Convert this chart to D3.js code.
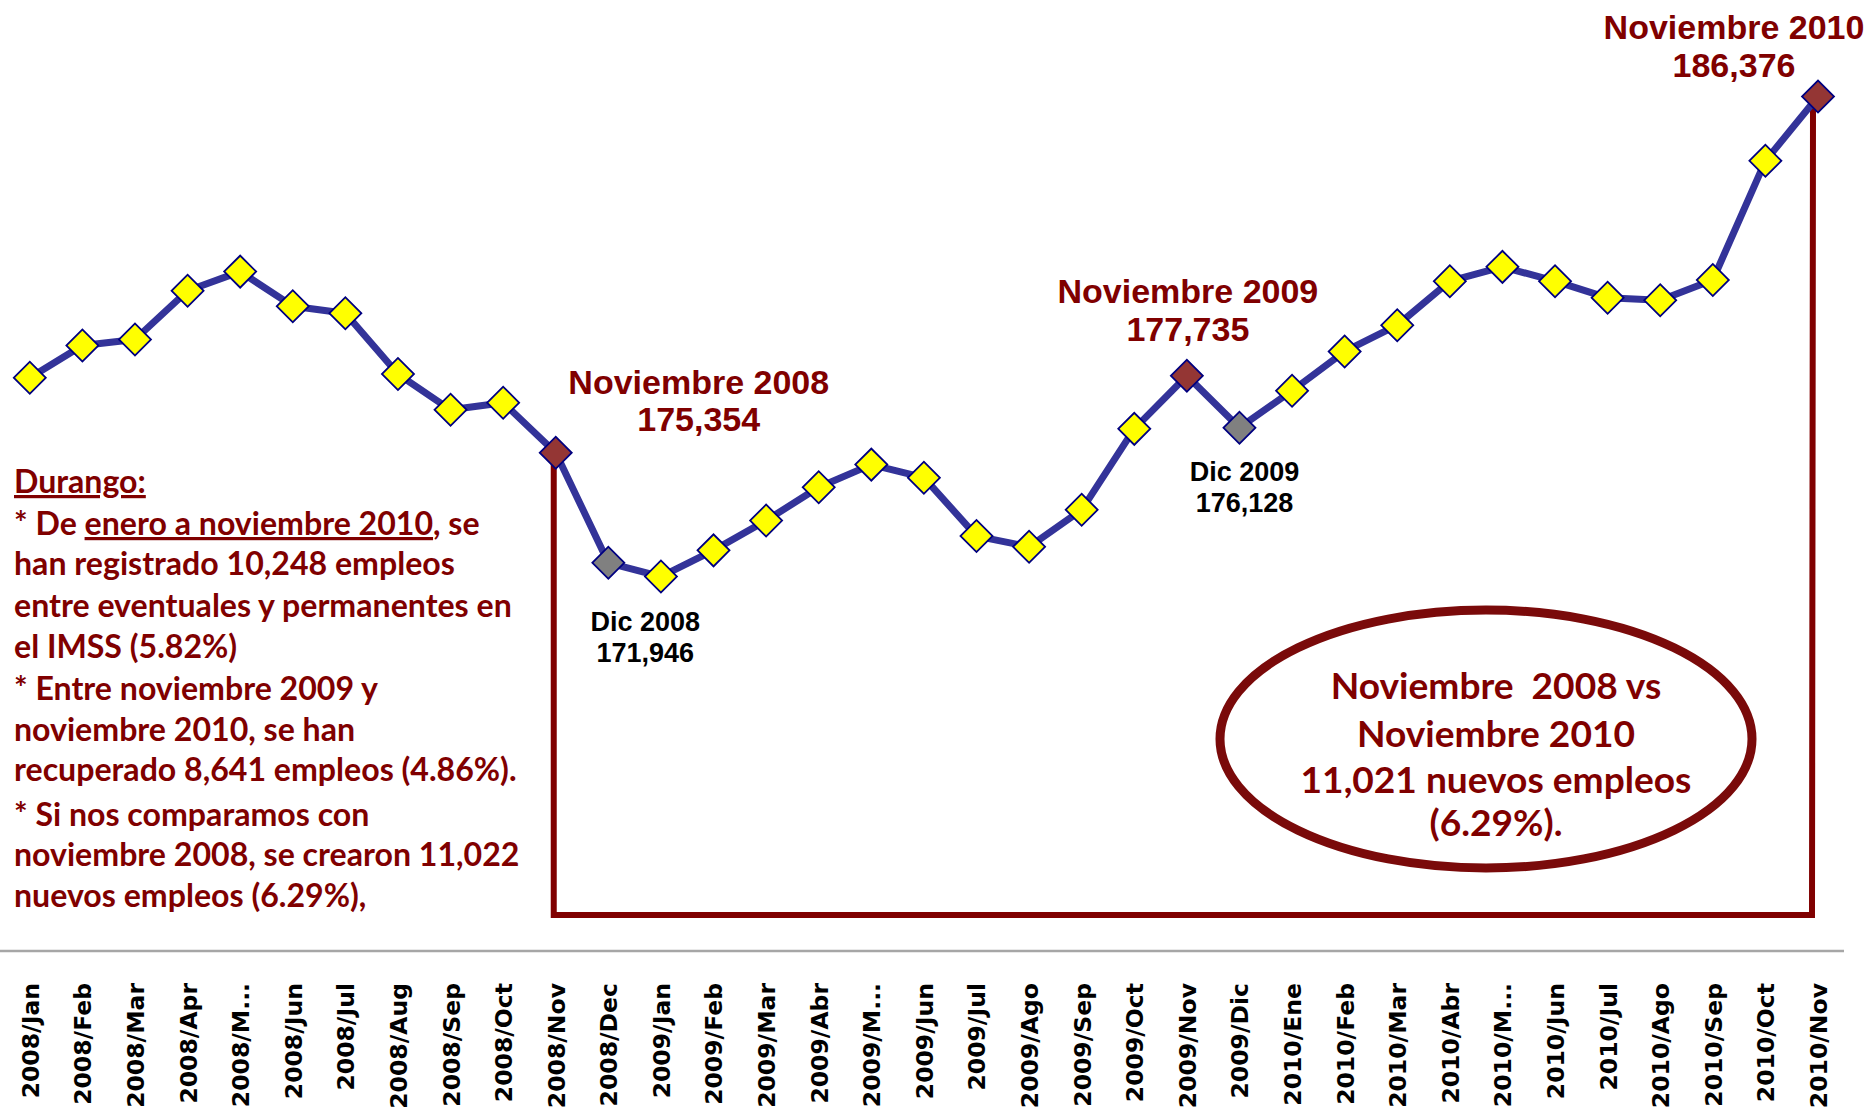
<!DOCTYPE html>
<html><head><meta charset="utf-8">
<script src="https://cdn.jsdelivr.net/npm/d3@7"></script>
<style>
html,body{margin:0;padding:0;background:#fff;}
svg{display:block;}
</style></head>
<body>
<svg id="chart" width="1868" height="1108"></svg>
<script>
const months = ["2008/Jan","2008/Feb","2008/Mar","2008/Apr","2008/M...","2008/Jun","2008/Jul","2008/Aug","2008/Sep","2008/Oct","2008/Nov","2008/Dec",
"2009/Jan","2009/Feb","2009/Mar","2009/Abr","2009/M...","2009/Jun","2009/Jul","2009/Ago","2009/Sep","2009/Oct","2009/Nov","2009/Dic",
"2010/Ene","2010/Feb","2010/Mar","2010/Abr","2010/M...","2010/Jun","2010/Jul","2010/Ago","2010/Sep","2010/Oct","2010/Nov"];
const values = [177676,178671,178856,180367,180957,179888,179667,177787,176681,176902,175354,171946,
171521,172331,173253,174285,174985,174580,172774,172442,173585,176091,177735,176128,
177271,178487,179298,180662,181104,180662,180146,180072,180699,184385,186376];
const highlightNov = [10,22,34];
const highlightDec = [11,23];
const annotations = [
  {i:10, lines:["Noviembre 2008","175,354"], dx:143, dy:[-59,-22], color:"#800000", size:34},
  {i:22, lines:["Noviembre 2009","177,735"], dx:1, dy:[-73,-35], color:"#800000", size:34},
  {i:34, lines:["Noviembre 2010","186,376"], dx:-84, dy:[-58,-20], color:"#800000", size:34},
  {i:11, lines:["Dic 2008","171,946"], dx:37, dy:[68,99], color:"#000000", size:27},
  {i:23, lines:["Dic 2009","176,128"], dx:5, dy:[53,84], color:"#000000", size:27}
];
const noteLines = [
  [{t:"Durango:",u:true}],
  [{t:"* De "},{t:"enero a noviembre 2010",u:true},{t:", se"}],
  [{t:"han registrado 10,248 empleos"}],
  [{t:"entre eventuales y permanentes en"}],
  [{t:"el IMSS (5.82%)"}],
  [{t:"* Entre noviembre 2009 y"}],
  [{t:"noviembre 2010, se han"}],
  [{t:"recuperado 8,641 empleos (4.86%)."}],
  [{t:"* Si nos comparamos con"}],
  [{t:"noviembre 2008, se crearon 11,022"}],
  [{t:"nuevos empleos (6.29%),"}]
];
const noteBaselines = [493,535,575,617,658,700,741,781,826,866,907];
const ellipseLines = ["Noviembre  2008 vs","Noviembre 2010","11,021 nuevos empleos","(6.29%)."];
const ellipseBaselines = [699,747,793,836];

const svg = d3.select("#chart");
const x = d3.scalePoint().domain(months).range([29.8, 1818]);
const y = d3.scaleLinear().domain([170000, 190000]).range([625.7, -20.6]);
const dark = "#800000";

// axis baseline
svg.append("line").attr("x1",0).attr("x2",1844).attr("y1",951).attr("y2",951)
  .attr("stroke","#a6a6a6").attr("stroke-width",2.5);

// axis labels
const xAxis = d3.axisBottom(x).tickSize(0).tickPadding(0);
const gx = svg.append("g").attr("transform","translate(0,951)").call(xAxis);
gx.select(".domain").remove();
gx.selectAll("text")
  .attr("font-family","'DejaVu Sans', Verdana, sans-serif")
  .attr("font-weight","bold").attr("font-size",23.5).attr("fill","#000")
  .attr("text-anchor","end")
  .attr("transform","rotate(-90)")
  .attr("x",-32).attr("y",0).attr("dy","0.36em");

// bracket
const xs = x(months[10]) - 2, xe = x(months[34]) - 6;
svg.append("path")
  .attr("d", `M${xs},${y(values[10])+6} L${xs},915 L${xe},915 L${xe+1},${y(values[34])+8}`)
  .attr("fill","none").attr("stroke",dark).attr("stroke-width",6).attr("stroke-linejoin","miter");

// line
const line = d3.line().x((d,i)=>x(months[i])).y(d=>y(d));
svg.append("path").datum(values).attr("d",line)
  .attr("fill","none").attr("stroke","#333399").attr("stroke-width",7).attr("stroke-linejoin","round");

// markers
svg.selectAll("path.mk").data(values).enter().append("path").attr("class","mk")
  .attr("d", d3.symbol().type(d3.symbolSquare).size(Math.pow(16*Math.SQRT2,2))())
  .attr("transform",(d,i)=>`translate(${x(months[i])},${y(d)}) rotate(45)`)
  .attr("fill",(d,i)=> highlightNov.includes(i) ? "#943634" : highlightDec.includes(i) ? "#808080" : "#ffff00")
  .attr("stroke","#000080").attr("stroke-width",1.8);

// annotations
annotations.forEach(a=>{
  const cx = x(months[a.i]) + a.dx, cy = y(values[a.i]);
  a.lines.forEach((t,k)=>{
    svg.append("text").attr("x",cx).attr("y",cy + a.dy[k]).text(t)
      .attr("text-anchor","middle").attr("font-family","'Liberation Sans', Arial, sans-serif")
      .attr("font-weight","bold").attr("font-size",a.size).attr("fill",a.color);
  });
});

// left note
const noteG = svg.append("g");
noteLines.forEach((ln,k)=>{
  const t = noteG.append("text").attr("x",14).attr("y",noteBaselines[k])
    .attr("font-family","Lato, 'Open Sans', sans-serif").attr("font-weight","bold")
    .attr("font-size",28).attr("fill",dark).style("white-space","pre");
  ln.forEach(s=>{ const ts=t.append("tspan").text(s.t); if(s.u) ts.attr("text-decoration","underline"); });
});
(function(){
  const nodes = noteG.selectAll("text").nodes();
  const w = nodes[3].getComputedTextLength();
  noteG.selectAll("text").attr("font-size",28 * 498 / w);
})();

// ellipse
svg.append("ellipse").attr("cx",1486).attr("cy",739).attr("rx",266).attr("ry",129)
  .attr("fill","none").attr("stroke","#7a0a0a").attr("stroke-width",9);
const eg = svg.append("g");
ellipseLines.forEach((t,k)=>{
  eg.append("text").attr("x",1496).attr("y",ellipseBaselines[k]).text(t)
    .attr("text-anchor","middle").attr("font-family","Lato, 'Open Sans', sans-serif")
    .attr("font-weight","bold").attr("font-size",34).attr("fill",dark).style("white-space","pre");
});
(function(){
  const nodes = eg.selectAll("text").nodes();
  const w = nodes[2].getComputedTextLength();
  eg.selectAll("text").attr("font-size",34*391/w);
})();
</script>
</body></html>
